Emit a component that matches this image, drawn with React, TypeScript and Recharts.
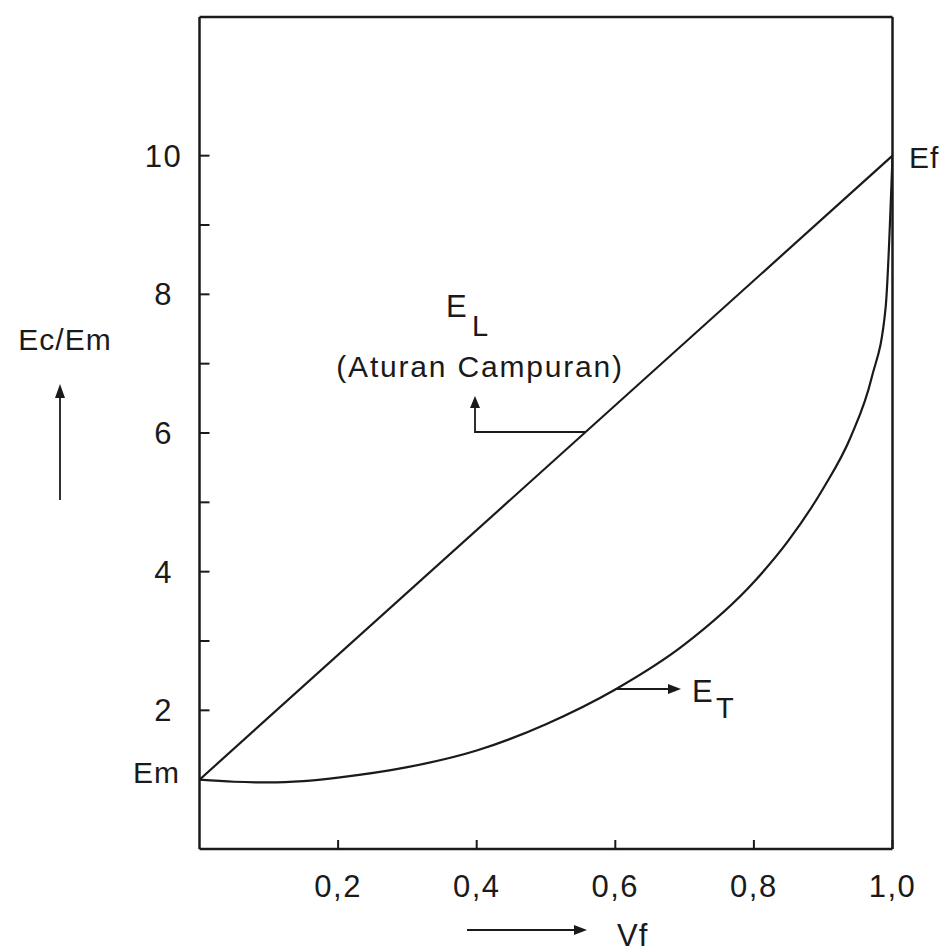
import React from "react";
import { ComposedChart, Line, XAxis, YAxis, ReferenceLine } from "recharts";

// E_T (transverse) curve
const vfT = [0, 0.05, 0.1, 0.15, 0.2, 0.3, 0.4, 0.5, 0.6, 0.7, 0.8, 0.85, 0.9, 0.94, 0.97, 0.99, 1.0];
const eT = [1.0, 0.97, 0.96, 0.98, 1.03, 1.18, 1.42, 1.8, 2.3, 2.95, 3.85, 4.45, 5.2, 5.95, 6.8, 7.8, 10];

// E_L (aturan campuran) straight line
const vfL = [0, 1];
const eL = [1, 10];

const xTicks = [0.2, 0.4, 0.6, 0.8, 1.0];
const yTicks = [2, 3, 4, 5, 6, 7, 8, 9, 10];
const yLabels = [2, 4, 6, 8, 10];

const ink = "#1a1a1a";
const font = "'Liberation Sans', Arial, sans-serif";

const dataT = vfT.map((v, i) => ({ vf: v, e: eT[i] }));
const dataL = vfL.map((v, i) => ({ vf: v, e: eL[i] }));

const XTick = (props: any) => {
  const { x, y, payload } = props;
  return (
    <g>
      <line x1={x} y1={y} x2={x} y2={y - 9} stroke={ink} strokeWidth={2} />
      <text x={x} y={y + 37} textAnchor="middle" dy="0.35em" fontSize={31} fill={ink} fontFamily={font} letterSpacing={1.5}>
        {payload.value.toFixed(1).replace(".", ",")}
      </text>
    </g>
  );
};

const YTick = (props: any) => {
  const { x, y, payload } = props;
  return (
    <g>
      <line x1={x} y1={y} x2={x + 10} y2={y} stroke={ink} strokeWidth={2} />
      {yLabels.includes(payload.value) && (
        <text x={x - 36} y={y} textAnchor="middle" dy="0.35em" fontSize={31} fill={ink} fontFamily={font} letterSpacing={1.5}>
          {payload.value}
        </text>
      )}
    </g>
  );
};

export default function App() {
  return (
    <div style={{ position: "absolute", left: 0, top: 0, width: 947, height: 952, background: "#fff" }}>
      <ComposedChart
        width={947}
        height={952}
        margin={{ top: 17, right: 54.5, left: 139.5, bottom: 53 }}
      >
        <XAxis
          type="number"
          dataKey="vf"
          domain={[0, 1]}
          ticks={xTicks}
          interval={0}
          height={50}
          tickSize={0}
          tickMargin={0}
          tickLine={false}
          axisLine={{ stroke: ink, strokeWidth: 2.5 }}
          tick={<XTick />}
          allowDataOverflow
        />
        <YAxis
          type="number"
          domain={[0, 12]}
          ticks={yTicks}
          interval={0}
          width={60}
          tickSize={0}
          tickMargin={0}
          tickLine={false}
          axisLine={{ stroke: ink, strokeWidth: 2.5 }}
          tick={<YTick />}
          allowDataOverflow
        />
        <ReferenceLine y={12} stroke={ink} strokeWidth={2.5} />
        <ReferenceLine x={1} stroke={ink} strokeWidth={2.5} />
        <Line
          data={dataL}
          dataKey="e"
          type="linear"
          stroke={ink}
          strokeWidth={2.2}
          dot={false}
          isAnimationActive={false}
        />
        <Line
          data={dataT}
          dataKey="e"
          type="monotone"
          stroke={ink}
          strokeWidth={2.2}
          dot={false}
          isAnimationActive={false}
        />
      </ComposedChart>
      <svg
        width={947}
        height={952}
        style={{ position: "absolute", left: 0, top: 0, pointerEvents: "none" }}
        fontFamily={font}
        fill={ink}
      >
        {/* y-axis title */}
        <text x={65} y={350} textAnchor="middle" fontSize={30} letterSpacing={1}>Ec/Em</text>
        <line x1={60} y1={500} x2={60} y2={394} stroke={ink} strokeWidth={1.8} />
        <polygon points="60,384 55,398 65,398" />
        {/* end labels */}
        <text x={180} y={783} textAnchor="end" fontSize={30} letterSpacing={1}>Em</text>
        <text x={909} y={168} fontSize={30} letterSpacing={1}>Ef</text>
        {/* E_L annotation */}
        <text x={446} y={317} fontSize={31}>E</text>
        <text x={472} y={336} fontSize={29}>L</text>
        <text x={480} y={377} textAnchor="middle" fontSize={30} letterSpacing={1.8}>(Aturan Campuran)</text>
        <polyline points="585,432 475,432 475,404" fill="none" stroke={ink} strokeWidth={1.8} />
        <polygon points="475,396 470,408 480,408" />
        {/* E_T annotation */}
        <line x1={615} y1={689} x2={672} y2={689} stroke={ink} strokeWidth={1.8} />
        <polygon points="681,689 668,684 668,694" />
        <text x={692} y={702} fontSize={31}>E</text>
        <text x={716} y={718} fontSize={29}>T</text>
        {/* x-axis title */}
        <line x1={467} y1={930} x2={578} y2={930} stroke={ink} strokeWidth={1.8} />
        <polygon points="587,930 574,925 574,935" />
        <text x={617} y={946} fontSize={31} letterSpacing={1}>Vf</text>
      </svg>
    </div>
  );
}
